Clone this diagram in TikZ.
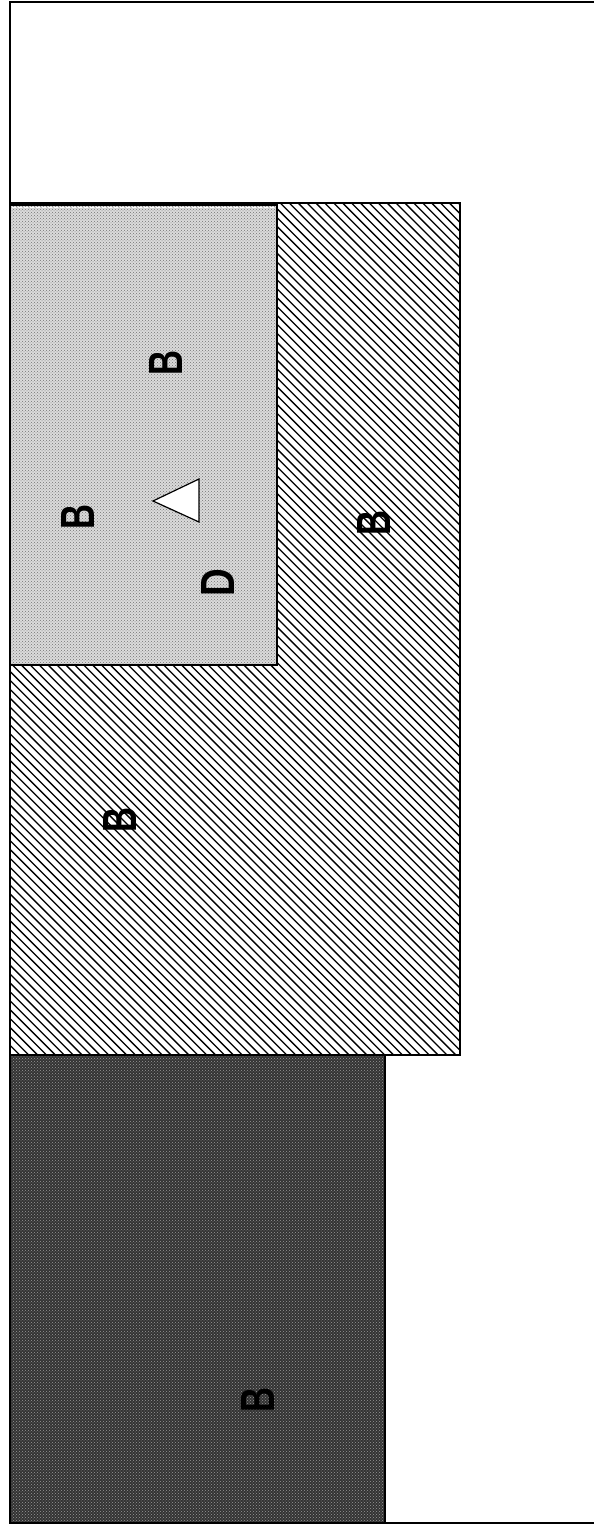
\documentclass[tikz,border=0pt]{standalone}
\usepackage{fontspec}
\setsansfont{Liberation Sans}
\usetikzlibrary{patterns}
\tikzset{
  frame/.style={line width=1.6pt, draw=black},
  hatchline/.style={line width=1.3pt, draw=black},
  lightbox/.style={fill=gray!28},
  darkbox/.style={fill=black!80},
  edge/.style={line width=1.2pt, draw=black},
  glyph/.style={rotate=90, inner sep=0pt, font=\sffamily\bfseries\fontsize{48}{48}\selectfont},
}
\begin{document}
\begin{tikzpicture}[x=1pt,y=-1pt]
\useasboundingbox (0,0) rectangle (594,1528);
% hatched region
\begin{scope}
  \clip (10,203) rectangle (460,1055);
  \foreach \k in {0,...,150} {
    \draw[hatchline] ({10-860+\k*8.9},203) -- ++(860,860);
  }
\end{scope}
\draw[edge] (10,203) rectangle (460,1055);
% light dotted region
\path[lightbox] (10,205) rectangle (277,665);
\path[pattern=crosshatch dots, pattern color=black!55] (10,205) rectangle (277,665);
\draw[edge] (10,205) rectangle (277,665);
\draw[line width=1pt, dash pattern=on 4pt off 2pt, draw=white] (12,207) -- (275,207);
% dark region
\path[darkbox] (10,1055) rectangle (385,1523);
\path[pattern=crosshatch dots, pattern color=white!60!black] (10,1055) rectangle (385,1523);
\draw[edge] (10,1055) rectangle (385,1523);
% outer frame (open on the right)
\draw[frame] (594,2) -- (10,2) -- (10,1523) -- (594,1523);
% glyphs
\node[glyph] (b1) at (166,363) {\scalebox{0.72}[1]{B}};
\node[glyph] (b2) at (78,517) {\scalebox{0.72}[1]{B}};
\node[glyph] (b3) at (374,523) {\scalebox{0.72}[1]{B}};
\node[glyph] (b4) at (120,820) {\scalebox{0.72}[1]{B}};
\node[glyph] (b5) at (258,1400) {\scalebox{0.72}[1]{B}};
\node[glyph] (d1) at (218,583) {\scalebox{0.8}[1]{D}};
% triangle
\draw[line width=1.2pt, fill=white, line join=miter] (153,501) -- (199,479) -- (199,522) -- cycle;
\end{tikzpicture}
\end{document}
